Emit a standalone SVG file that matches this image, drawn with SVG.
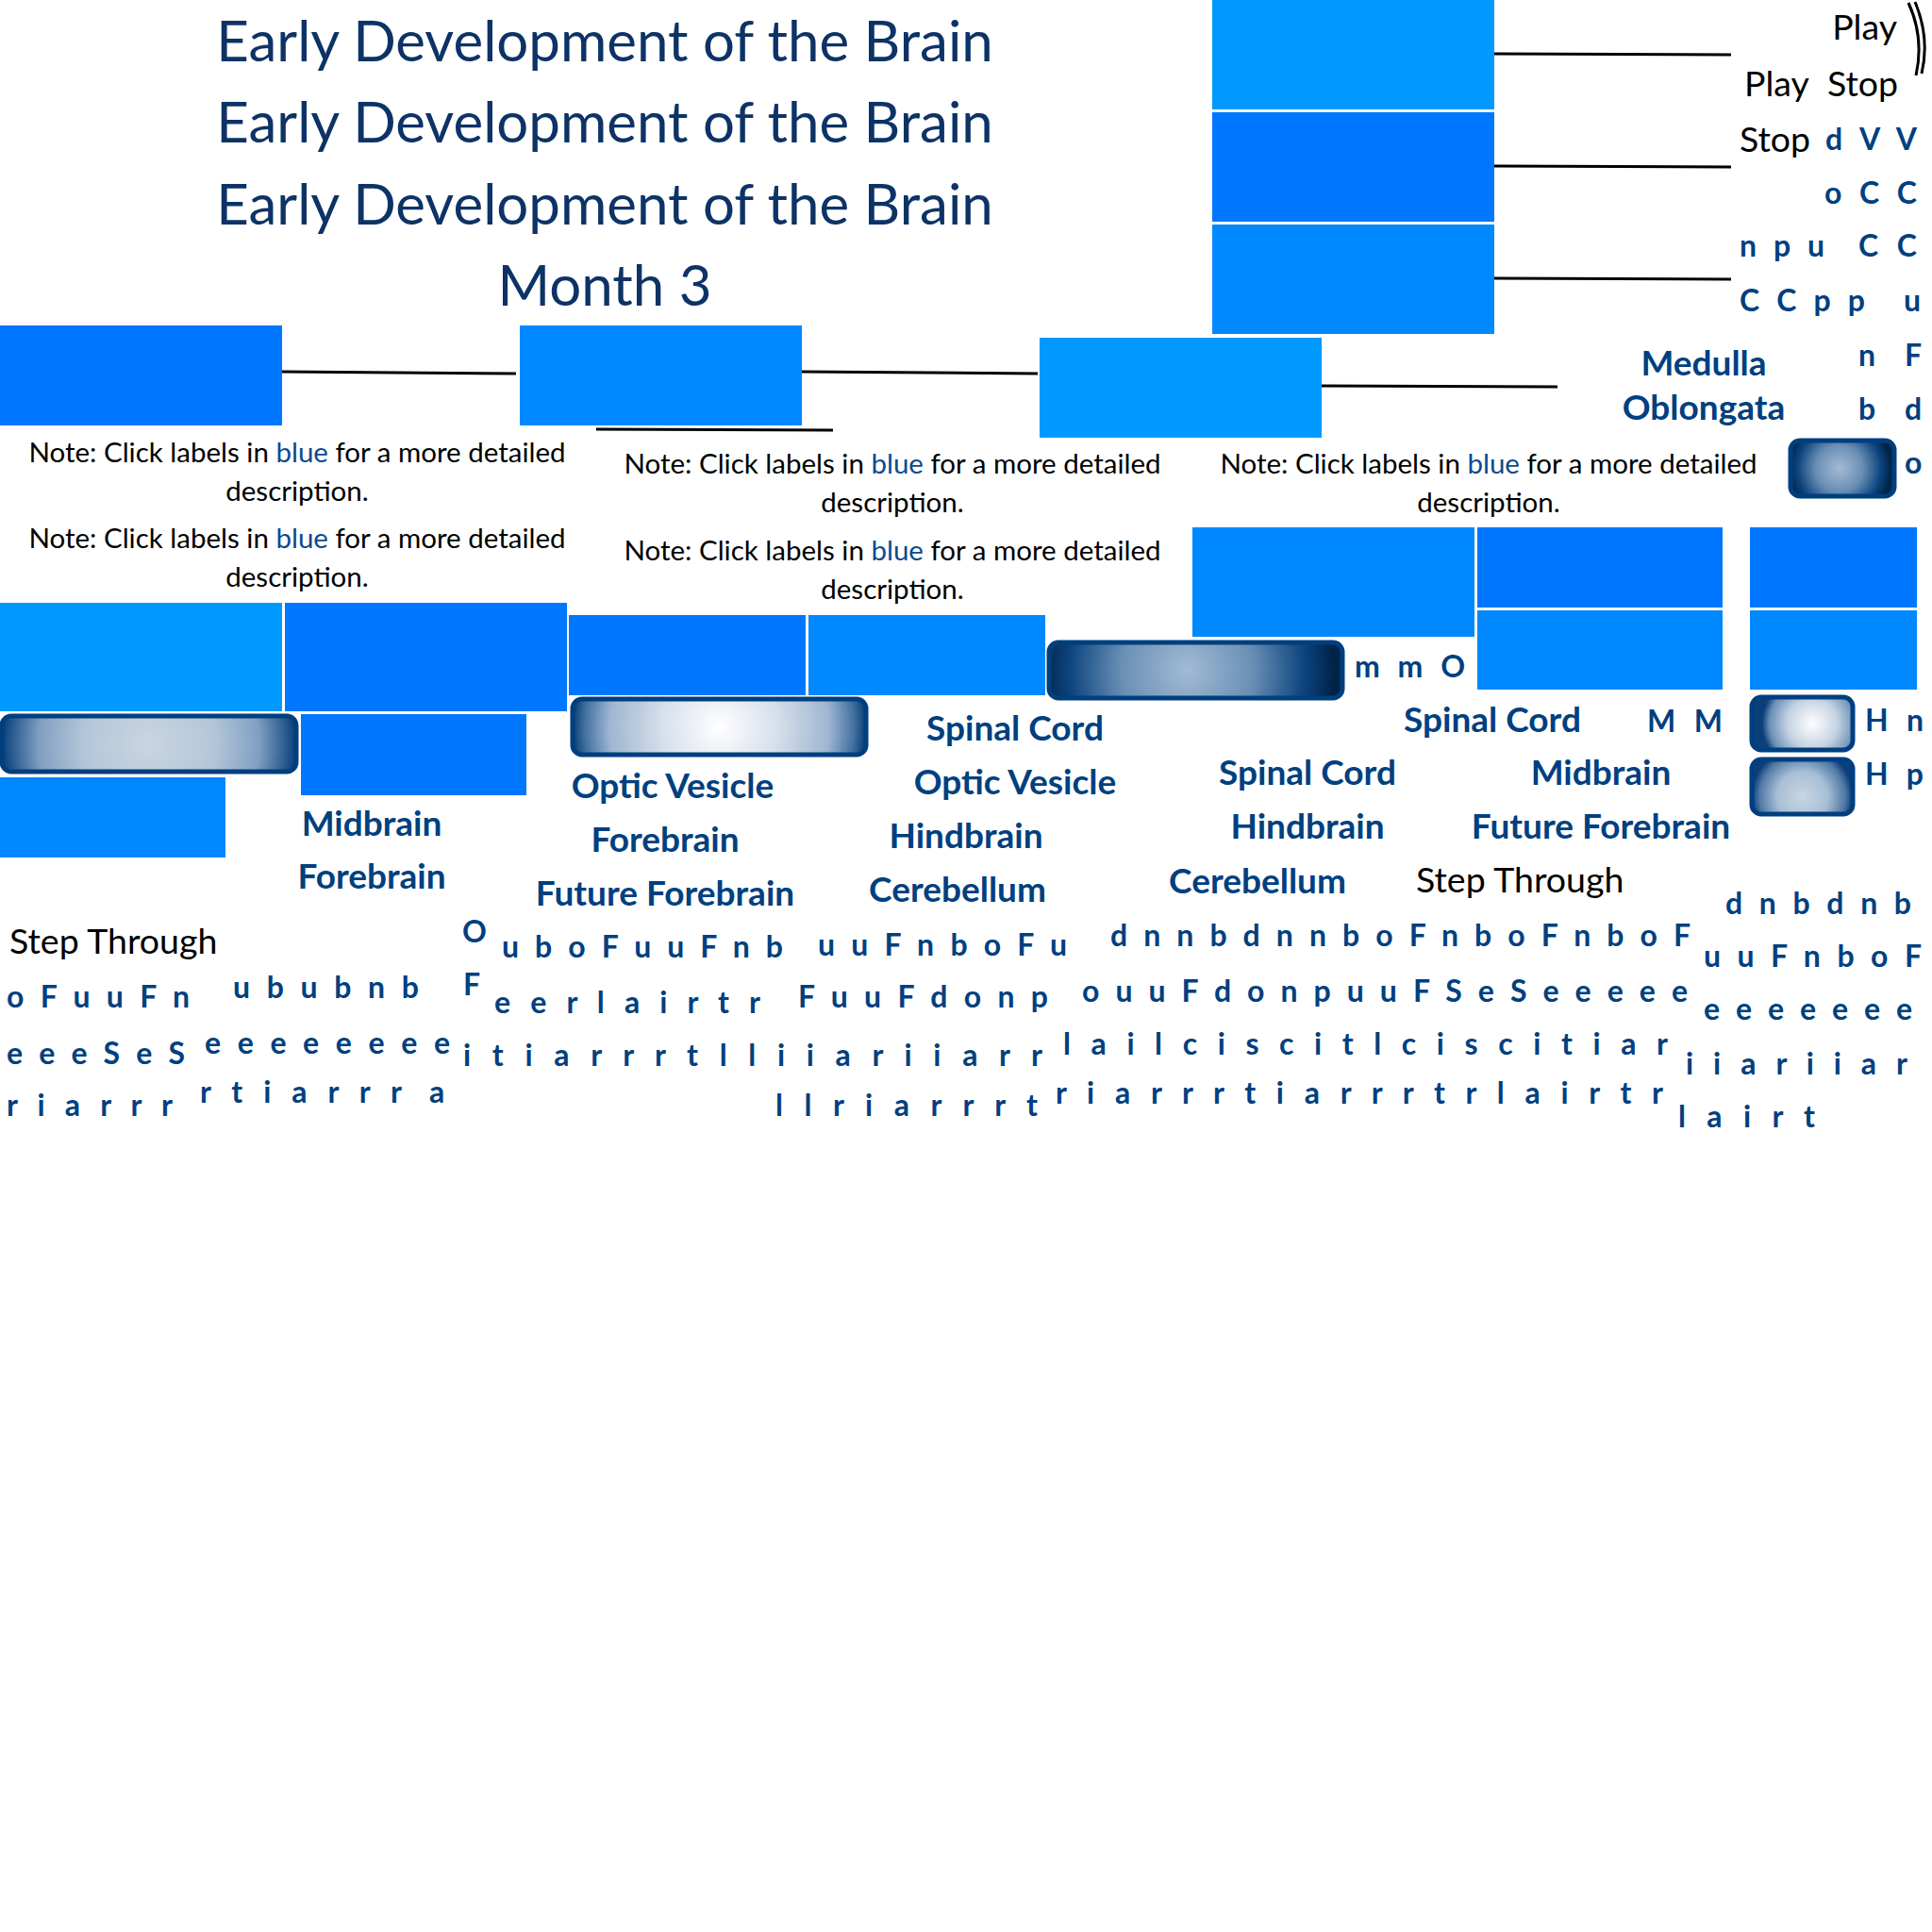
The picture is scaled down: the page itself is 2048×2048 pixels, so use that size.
<svg xmlns="http://www.w3.org/2000/svg" width="2048" height="2048" viewBox="0 0 2048 2048">
<style>
.title{font-family:Lato,"Liberation Sans",sans-serif;font-size:60px;fill:#0d3366;text-anchor:middle}
.lbl{font-family:Lato,"Liberation Sans",sans-serif;font-weight:bold;font-size:37px;fill:#00407f;text-anchor:middle}
.blk{font-family:Lato,"Liberation Sans",sans-serif;font-size:37.5px;fill:#000}
.note{font-family:Lato,"Liberation Sans",sans-serif;font-size:29.5px;fill:#000;text-anchor:middle}
.blue{fill:#0b4a8f}
.ltr{font-family:Lato,"Liberation Sans",sans-serif;font-weight:bold;font-size:32px;fill:#00407f}
.conn{stroke:#000;stroke-width:3;fill:none}
.c1{fill:#0099ff}.c2{fill:#0077ff}.c3{fill:#0088ff}
.pill{stroke:#003f7f;stroke-width:5}
</style>
<defs>
<radialGradient id="gLight" cx="0.5" cy="0.5" r="0.5" gradientTransform="translate(0.5,0.5) scale(1,5.3) translate(-0.5,-0.5)">
<stop offset="0" stop-color="#c9d5e1"/><stop offset="0.45" stop-color="#b3c6d9"/><stop offset="0.75" stop-color="#809fc2"/><stop offset="0.92" stop-color="#2f5f94"/><stop offset="1" stop-color="#0a3f7a"/>
</radialGradient>
<radialGradient id="gWhite" cx="0.5" cy="0.5" r="0.5" gradientTransform="translate(0.5,0.5) scale(1,5.3) translate(-0.5,-0.5)">
<stop offset="0" stop-color="#ffffff"/><stop offset="0.4" stop-color="#d6dfea"/><stop offset="0.75" stop-color="#9db6d2"/><stop offset="0.92" stop-color="#42709f"/><stop offset="1" stop-color="#0a3f7a"/>
</radialGradient>
<radialGradient id="gDark" cx="0.47" cy="0.5" r="0.5" gradientTransform="translate(0.5,0.5) scale(1,5.3) translate(-0.5,-0.5)">
<stop offset="0" stop-color="#a2bbd4"/><stop offset="0.45" stop-color="#6a8fb5"/><stop offset="0.8" stop-color="#0d4580"/><stop offset="1" stop-color="#002448"/>
</radialGradient>
<radialGradient id="gDarkS" cx="0.47" cy="0.5" r="0.5" gradientTransform="translate(0.5,0.5) scale(1,1.86) translate(-0.5,-0.5)">
<stop offset="0" stop-color="#a2bbd4"/><stop offset="0.45" stop-color="#6a8fb5"/><stop offset="0.8" stop-color="#0d4580"/><stop offset="1" stop-color="#002448"/>
</radialGradient>
<radialGradient id="gSmallW" cx="0.6" cy="0.5" r="0.5" gradientTransform="translate(0.5,0.5) scale(1,1.9) translate(-0.5,-0.5)">
<stop offset="0" stop-color="#ffffff"/><stop offset="0.5" stop-color="#c3d2e2"/><stop offset="0.85" stop-color="#6a8fb5"/><stop offset="1" stop-color="#0a3f7a"/>
</radialGradient>
<radialGradient id="gSmallL" cx="0.5" cy="0.6" r="0.5" gradientTransform="translate(0.5,0.5) scale(1,1.85) translate(-0.5,-0.5)">
<stop offset="0" stop-color="#c9d5e1"/><stop offset="0.5" stop-color="#a8bfd6"/><stop offset="0.85" stop-color="#4f78a5"/><stop offset="1" stop-color="#0a3f7a"/>
</radialGradient>
</defs>

<g id="titles">
<text class="title" x="641" y="65">Early Development of the Brain</text>
<text class="title" x="641" y="151">Early Development of the Brain</text>
<text class="title" x="641" y="238">Early Development of the Brain</text>
<text class="title" x="641" y="324">Month 3</text>
</g>

<g id="connectors">
<path class="conn" d="M1584 57 L1835 58"/>
<path class="conn" d="M1584 176 L1835 177"/>
<path class="conn" d="M1584 295 L1835 296"/>
<path class="conn" d="M299 394 L547 396"/>
<path class="conn" d="M850 394 L1100 396"/>
<path class="conn" d="M632 455 L883 456"/>
<path class="conn" d="M1401 409 L1651 410"/>
<path class="conn" d="M2023 3 Q2040 40 2031 80" stroke-width="2"/>
<path class="conn" d="M2030 2 Q2046 40 2037 78" stroke-width="2"/>
</g>

<g id="top-right-blocks">
<rect id="tr1" class="c1" x="1285" y="0" width="299" height="116"/>
<rect id="tr2" class="c2" x="1285" y="119" width="299" height="116"/>
<rect id="tr3" class="c3" x="1285" y="238" width="299" height="116"/>
</g>

<g id="mid-blocks">
<rect id="rA" class="c2" x="0" y="345" width="299" height="106"/>
<rect id="rB" class="c3" x="551" y="345" width="299" height="106"/>
<rect id="rC" class="c1" x="1102" y="358" width="299" height="106"/>
</g>

<g id="playstop">
<text class="blk" x="2011" y="42" text-anchor="end">Play</text>
<text class="blk" x="1849" y="102">Play</text>
<text class="blk" x="1937" y="102">Stop</text>
<text class="blk" x="1844" y="161">Stop</text>
</g>

<g id="tr-letters">
<text class="ltr" x="1935" y="159" textLength="97" lengthAdjust="spacing">d V V</text>
<text class="ltr" x="1934" y="216" textLength="98" lengthAdjust="spacing">o C C</text>
<text class="ltr" x="1844" y="272" textLength="90" lengthAdjust="spacing">n p u</text>
<text class="ltr" x="1970" y="272" textLength="62" lengthAdjust="spacing">C C</text>
<text class="ltr" x="1844" y="330" textLength="133" lengthAdjust="spacing">C C p p</text>
<text class="ltr" x="2018" y="330">u</text>
<text class="ltr" x="1970" y="388">n</text>
<text class="ltr" x="2019" y="388">F</text>
<text class="ltr" x="1970" y="445">b</text>
<text class="ltr" x="2019" y="445">d</text>
<text class="ltr" x="2019" y="502">o</text>
</g>

<g id="medulla">
<text class="lbl" x="1806" y="398">Medulla</text>
<text class="lbl" x="1806" y="445">Oblongata</text>
<rect class="pill" x="1898" y="467" width="110" height="59" rx="10" fill="url(#gDarkS)"/>
</g>

<g id="notes">
<text class="note" x="315" y="490">Note: Click labels in <tspan class="blue">blue</tspan> for a more detailed</text>
<text class="note" x="315" y="531">description.</text>
<text class="note" x="315" y="581">Note: Click labels in <tspan class="blue">blue</tspan> for a more detailed</text>
<text class="note" x="315" y="622">description.</text>
<text class="note" x="946" y="502">Note: Click labels in <tspan class="blue">blue</tspan> for a more detailed</text>
<text class="note" x="946" y="543">description.</text>
<text class="note" x="946" y="594">Note: Click labels in <tspan class="blue">blue</tspan> for a more detailed</text>
<text class="note" x="946" y="635">description.</text>
<text class="note" x="1578" y="502">Note: Click labels in <tspan class="blue">blue</tspan> for a more detailed</text>
<text class="note" x="1578" y="543">description.</text>
</g>

<g id="lower-blocks">
<rect id="rD" class="c1" x="0" y="639" width="299" height="115"/>
<rect id="rE" class="c2" x="302" y="639" width="299" height="115"/>
<rect id="rF" class="c2" x="319" y="757" width="239" height="86"/>
<rect id="rG" class="c3" x="0" y="824" width="239" height="85"/>
<rect id="rH" class="c2" x="603" y="652" width="251" height="85"/>
<rect id="rI" class="c3" x="857" y="652" width="251" height="85"/>
<rect id="rJ" class="c3" x="1264" y="559" width="299" height="116"/>
<rect id="rK" class="c2" x="1566" y="559" width="260" height="85"/>
<rect id="rL" class="c3" x="1566" y="647" width="260" height="84"/>
<rect id="rM" class="c2" x="1855" y="559" width="177" height="85"/>
<rect id="rN" class="c3" x="1855" y="647" width="177" height="84"/>
</g>

<g id="pills">
<rect id="p1" class="pill" x="2" y="759" width="312" height="59" rx="10" fill="url(#gLight)"/>
<rect id="p2" class="pill" x="607" y="741" width="311" height="59" rx="10" fill="url(#gWhite)"/>
<rect id="p3" class="pill" x="1112" y="681" width="311" height="59" rx="10" fill="url(#gDark)"/>
<rect id="p4" class="pill" x="1857" y="739" width="107" height="56" rx="10" fill="url(#gSmallW)"/>
<rect id="p5" class="pill" x="1857" y="805" width="107" height="58" rx="10" fill="url(#gSmallL)"/>
</g>

<g id="labels">
<text class="lbl" x="1076" y="785">Spinal Cord</text>
<text class="lbl" x="1582" y="776">Spinal Cord</text>
<text class="lbl" x="1386" y="832">Spinal Cord</text>
<text class="lbl" x="713" y="846">Optic Vesicle</text>
<text class="lbl" x="1076" y="842">Optic Vesicle</text>
<text class="lbl" x="394" y="886">Midbrain</text>
<text class="lbl" x="1697" y="832">Midbrain</text>
<text class="lbl" x="705" y="903">Forebrain</text>
<text class="lbl" x="394" y="942">Forebrain</text>
<text class="lbl" x="1024" y="899">Hindbrain</text>
<text class="lbl" x="1386" y="889">Hindbrain</text>
<text class="lbl" x="1697" y="889">Future Forebrain</text>
<text class="lbl" x="705" y="960">Future Forebrain</text>
<text class="lbl" x="1015" y="956">Cerebellum</text>
<text class="lbl" x="1333" y="947">Cerebellum</text>
<text class="blk" x="1501" y="946">Step Through</text>
<text class="blk" x="10" y="1011">Step Through</text>
</g>

<g id="scatter-letters">
<text class="ltr" x="1436" y="718" textLength="117" lengthAdjust="spacing">m m O</text>
<text class="ltr" x="1746" y="776" textLength="80" lengthAdjust="spacing">M M</text>
<text class="ltr" x="1977" y="775" textLength="62" lengthAdjust="spacing">H n</text>
<text class="ltr" x="1977" y="832" textLength="62" lengthAdjust="spacing">H p</text>

<text class="ltr" x="490" y="999">O</text>
<text class="ltr" x="532" y="1015" textLength="298" lengthAdjust="spacing">u b o F u u F n b</text>
<text class="ltr" x="867" y="1013" textLength="264" lengthAdjust="spacing">u u F n b o F u</text>
<text class="ltr" x="1177" y="1003" textLength="615" lengthAdjust="spacing">d n n b d n n b o F n b o F n b o F</text>
<text class="ltr" x="1829" y="969" textLength="197" lengthAdjust="spacing">d n b d n b</text>
<text class="ltr" x="1806" y="1025" textLength="231" lengthAdjust="spacing">u u F n b o F</text>

<text class="ltr" x="7" y="1068" textLength="194" lengthAdjust="spacing">o F u u F n</text>
<text class="ltr" x="247" y="1058" textLength="197" lengthAdjust="spacing">u b u b n b</text>
<text class="ltr" x="491" y="1055">F</text>
<text class="ltr" x="524" y="1074" textLength="282" lengthAdjust="spacing">e e r l a i r t r</text>
<text class="ltr" x="846" y="1068" textLength="265" lengthAdjust="spacing">F u u F d o n p</text>
<text class="ltr" x="1147" y="1062" textLength="642" lengthAdjust="spacing">o u u F d o n p u u F S e S e e e e e</text>
<text class="ltr" x="1806" y="1081" textLength="221" lengthAdjust="spacing">e e e e e e e</text>

<text class="ltr" x="7" y="1128" textLength="189" lengthAdjust="spacing">e e e S e S</text>
<text class="ltr" x="217" y="1117" textLength="260" lengthAdjust="spacing">e e e e e e e e</text>
<text class="ltr" x="491" y="1130" textLength="614" lengthAdjust="spacing">i t i a r r r t l l i i a r i i a r r</text>
<text class="ltr" x="1127" y="1118" textLength="641" lengthAdjust="spacing">l a i l c i s c i t l c i s c i t i a r</text>
<text class="ltr" x="1787" y="1139" textLength="235" lengthAdjust="spacing">i i a r i i a r</text>

<text class="ltr" x="7" y="1183" textLength="176" lengthAdjust="spacing">r i a r r r</text>
<text class="ltr" x="212" y="1169" textLength="214" lengthAdjust="spacing">r t i a r r r</text>
<text class="ltr" x="455" y="1169">a</text>
<text class="ltr" x="822" y="1183" textLength="278" lengthAdjust="spacing">l l r i a r r r t</text>
<text class="ltr" x="1119" y="1170" textLength="644" lengthAdjust="spacing">r i a r r r t i a r r r t r l a i r t r</text>
<text class="ltr" x="1779" y="1195" textLength="145" lengthAdjust="spacing">l a i r t</text>
</g>
</svg>
